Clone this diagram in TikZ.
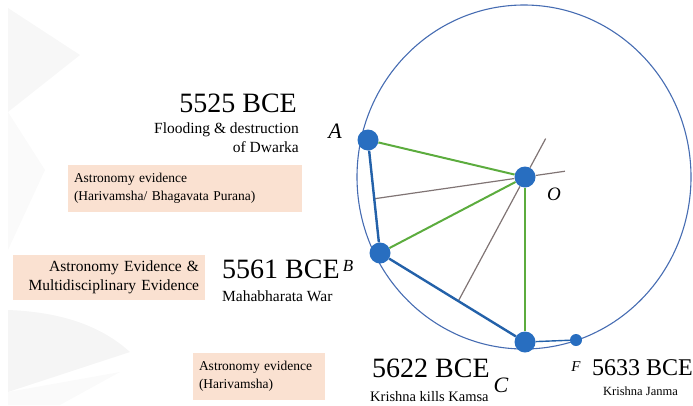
\documentclass[tikz,border=0pt]{standalone}
\usepackage{fontspec}
\setmainfont{Liberation Serif}
\usetikzlibrary{calc}
\definecolor{dotblue}{RGB}{40,110,192}
\definecolor{rimblue}{RGB}{70,108,178}
\definecolor{chordgreen}{RGB}{92,172,62}
\definecolor{axisgray}{RGB}{128,116,116}
\definecolor{peach}{RGB}{250,225,209}

\begin{document}
\begin{tikzpicture}[x=1pt,y=-1pt,
	point node/.style={circle,fill=dotblue,inner sep=0pt,minimum size=21pt},
	small node/.style={circle,fill=dotblue,inner sep=0pt,minimum size=12pt},
	chord/.style={draw=dotblue!88!black,line width=2.4pt},
	radius line/.style={draw=chordgreen,line width=2pt},
	bisector/.style={draw=axisgray,line width=1.2pt},
	date node/.style={inner sep=0pt,font=\fontsize{28}{28}\selectfont},
	event node/.style={inner sep=0pt,font=\fontsize{15.5}{19}\selectfont},
	box node/.style={fill=peach,inner xsep=6pt,inner ysep=0pt,font=\fontsize{13.5}{18}\selectfont}]
	
	\useasboundingbox (0,0) rectangle (693,405);
	\fill[black!3] (8,8) -- (80,55) -- (8,112) -- cycle;
	\fill[black!2] (8,112) -- (45,170) -- (8,250) -- cycle;
	\fill[black!4] (8,310) .. controls (60,312) and (100,325) .. (130,352) -- (8,392) -- cycle;
	\fill[black!2] (8,392) -- (120,372) -- (60,405) -- (8,405) -- cycle;
	
	\draw[rimblue,line width=1.1pt] (524,177) ellipse [x radius=167,y radius=172];
	
	\node[point node] (A) at (368,140) {};
	\node[point node] (B) at (380,253) {};
	\node[point node] (C) at (525,342) {};
	\node[point node] (O) at (525,177) {};
	\node[small node] (F) at (576,340) {};
	\coordinate (mab) at ($(A)!0.52!(B)$);
	\coordinate (mbc) at ($(B)!0.54!(C)$);
	\coordinate (abend) at ($(O)!-0.265!(mab)$);
	\coordinate (bcend) at ($(O)!-0.31!(mbc)$);
	
	\path
	(mab) edge[bisector] (O)
	(O) edge[bisector] (abend)
	(mbc) edge[bisector] (O)
	(O) edge[bisector] (bcend)
	(A) edge[radius line] (O)
	(B) edge[radius line] (O)
	(C) edge[radius line] (O)
	(A) edge[chord] (B)
	(B) edge[chord] (C)
	(C) edge[chord,line width=1.4pt] (F);
	
	\node[font=\itshape\fontsize{22}{22}\selectfont] (la) at (335,131) {A};
	\node[font=\itshape\fontsize{17}{17}\selectfont] (lb) at (348,266) {B};
	\node[font=\itshape\fontsize{19}{19}\selectfont] (lo) at (554,194) {O};
	\node[font=\itshape\fontsize{22}{22}\selectfont] (lc) at (501,385) {C};
	\node[font=\itshape\fontsize{15}{15}\selectfont] (lf) at (576,367) {F};
	
	\node[date node,anchor=base east] (d5525) at (297,112) {5525 BCE};
	\node[event node,anchor=north east,align=right] (dwarka) at (299,123) {Flooding \& destruction\\of Dwarka};
	\node[date node,anchor=base west] (d5561) at (222,278) {5561 BCE};
	\node[event node,anchor=base west] (war) at (222,301) {Mahabharata War};
	\node[date node,anchor=base west] (d5622) at (372,377) {5622 BCE};
	\node[event node,anchor=base west,font=\fontsize{14.5}{14.5}\selectfont] (kamsa) at (370,401) {Krishna kills Kamsa};
	\node[date node,anchor=base west,font=\fontsize{24}{24}\selectfont] (d5633) at (592,375) {5633 BCE};
	\node[event node,anchor=base west,font=\fontsize{12.5}{12.5}\selectfont] (janma) at (603,395) {Krishna Janma};
	
	\node[box node,minimum width=234pt,minimum height=47pt,text width=222pt,align=left] (purana) at (185,188.5) {Astronomy evidence\\(Harivamsha/ Bhagavata Purana)};
	\node[box node,minimum width=192pt,minimum height=45pt,text width=180pt,align=right,font=\fontsize{15.5}{19}\selectfont] (multi) at (109,277.5) {Astronomy Evidence \&\\Multidisciplinary Evidence};
	\node[box node,minimum width=132pt,minimum height=47pt,text width=120pt,align=left] (harivamsha) at (259,376.5) {Astronomy evidence\\(Harivamsha)};
\end{tikzpicture}
\end{document}
